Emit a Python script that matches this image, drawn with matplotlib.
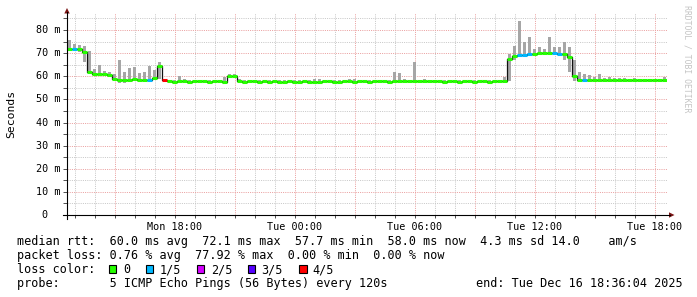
import matplotlib
matplotlib.use("Agg")
import matplotlib.pyplot as plt
from matplotlib.patches import Polygon, Rectangle
from matplotlib.lines import Line2D
import matplotlib.transforms as mtransforms
import numpy as np

# ---------------- data ----------------
start_hour = 12.6          # Mon 12:36 (hours since Mon 00:00)
step_hours = 0.25          # 15-minute bins
end_hour = 42.6            # Tue 18:36

median_ms = [
    72.0, 72.0, 71.7, 70.5, 62.0, 61.2, 61.0, 61.0, 60.6, 59.0,
    58.5, 58.6, 58.5, 58.7, 58.5, 58.5, 58.3, 59.2, 64.5, 58.2,
    57.8, 57.7, 57.9, 57.8, 57.7, 57.8, 57.8, 57.9, 57.7, 57.8,
    57.8, 57.7, 60.0, 60.2, 57.8, 57.7, 57.8, 57.8, 57.7, 57.8,
    57.7, 57.8, 57.6, 57.7, 57.8, 57.7, 57.7, 57.8, 57.7, 57.6,
    57.7, 57.8, 57.8, 57.7, 57.7, 57.8, 57.8, 57.7, 57.8, 57.8,
    57.7, 57.8, 57.9, 57.8, 57.7, 57.9, 58.0, 57.8, 57.8, 57.9,
    57.8, 57.8, 57.9, 57.8, 57.8, 57.7, 57.8, 57.8, 57.7, 57.8,
    57.8, 57.7, 57.8, 57.8, 57.7, 57.8, 57.8, 58.0, 67.5, 68.8,
    69.2, 69.4, 69.6, 69.8, 70.0, 70.0, 70.0, 70.0, 69.8, 69.5,
    68.3, 60.0, 58.6, 58.5, 58.4, 58.5, 58.4, 58.5, 58.4, 58.3,
    58.3, 58.4, 58.3, 58.3, 58.2, 58.3, 58.3, 58.2, 58.3, 58.4,
]

smoke_hi_ms = [
    75.5, 74.0, 73.5, 73.0, 71.0, 63.0, 64.9, 62.5, 62.0, 61.0,
    67.0, 62.0, 63.6, 64.0, 61.3, 62.0, 64.4, 62.7, 66.0, 59.0,
    58.5, 58.6, 60.0, 59.0, 58.5, 58.4, 58.6, 58.5, 58.4, 58.6,
    58.5, 59.5, 61.0, 61.2, 58.8, 58.5, 58.4, 58.5, 58.4, 58.5,
    58.4, 58.5, 58.3, 58.4, 58.5, 58.4, 58.5, 58.6, 58.4, 58.7,
    58.7, 58.5, 58.5, 58.4, 58.4, 58.5, 58.7, 58.7, 58.5, 58.5,
    58.4, 58.5, 58.6, 58.5, 58.4, 62.0, 61.5, 59.0, 58.6, 66.3,
    58.5, 59.0, 58.5, 58.5, 58.5, 58.4, 58.5, 58.5, 58.4, 58.5,
    58.5, 58.4, 58.5, 58.6, 58.4, 58.5, 58.6, 59.8, 69.5, 73.0,
    84.0, 75.0, 77.0, 72.0, 72.5, 72.0, 77.0, 72.5, 72.5, 75.0,
    72.5, 67.0, 62.0, 61.0, 60.5, 59.5, 60.8, 59.2, 59.8, 59.2,
    59.3, 59.1, 59.0, 59.1, 59.0, 58.9, 59.0, 58.8, 59.0, 59.8,
]

smoke_lo_ms = [
    71.5, 71.5, 70.5, 66.0, 61.0, 60.6, 60.5, 60.5, 59.8, 58.2,
    57.0, 57.2, 58.0, 58.0, 58.0, 58.0, 57.8, 58.5, 59.0, 57.7,
    57.4, 57.4, 57.4, 57.4, 57.4, 57.4, 57.4, 57.4, 57.4, 57.4,
    57.4, 57.4, 59.3, 59.5, 57.4, 57.4, 57.4, 57.4, 57.4, 57.4,
    57.4, 57.4, 57.4, 57.4, 57.4, 57.4, 57.4, 57.4, 57.4, 57.4,
    57.4, 57.4, 57.4, 57.4, 57.4, 57.4, 57.4, 57.4, 57.4, 57.4,
    57.4, 57.4, 57.4, 57.4, 57.4, 57.4, 57.4, 57.4, 57.4, 57.4,
    57.4, 57.4, 57.4, 57.4, 57.4, 57.4, 57.4, 57.4, 57.4, 57.4,
    57.4, 57.4, 57.4, 57.4, 57.4, 57.4, 57.4, 57.5, 58.0, 67.0,
    68.8, 69.0, 69.2, 69.4, 69.5, 69.5, 69.5, 69.5, 69.2, 67.0,
    62.0, 58.0, 58.0, 58.0, 58.0, 58.0, 58.0, 58.0, 58.0, 58.0,
    58.0, 58.0, 58.0, 58.0, 58.0, 58.0, 58.0, 58.0, 58.0, 58.0,
]

loss_fifths = [
    0, 1, 0, 0, 0, 0, 0, 0, 0, 0,
    0, 0, 0, 0, 0, 0, 1, 0, 0, 4,
    0, 0, 0, 0, 0, 0, 0, 0, 0, 0,
    0, 0, 0, 0, 0, 0, 0, 0, 0, 0,
    0, 0, 0, 0, 0, 0, 0, 0, 0, 0,
    0, 0, 0, 0, 0, 0, 0, 0, 0, 0,
    0, 0, 0, 0, 0, 0, 0, 0, 0, 0,
    0, 0, 0, 0, 0, 0, 0, 0, 0, 0,
    0, 0, 0, 0, 0, 0, 0, 0, 0, 0,
    1, 1, 1, 0, 0, 0, 0, 1, 1, 0,
    0, 0, 0, 1, 0, 0, 0, 0, 0, 0,
    0, 0, 0, 0, 0, 0, 0, 0, 0, 0,
]

loss_colors = ["#26ff00", "#00b8ff", "#d400ff", "#5500ff", "#ff0000"]
loss_labels = ["0", "1/5", "2/5", "3/5", "4/5"]

x_tick_hours = [18, 24, 30, 36, 42]
x_tick_labels = ["Mon 18:00", "Tue 00:00", "Tue 06:00", "Tue 12:00", "Tue 18:00"]
y_tick_values = [0, 10, 20, 30, 40, 50, 60, 70, 80]
y_tick_labels = ["0", "10 m", "20 m", "30 m", "40 m", "50 m", "60 m", "70 m", "80 m"]

stats_line1 = "median rtt:  60.0 ms avg  72.1 ms max  57.7 ms min  58.0 ms now  4.3 ms sd 14.0    am/s"
stats_line2 = "packet loss: 0.76 % avg  77.92 % max  0.00 % min  0.00 % now"
probe_line = "probe:       5 ICMP Echo Pings (56 Bytes) every 120s"
end_text = "end: Tue Dec 16 18:36:04 2025"

# ---------------- figure ----------------
W, H = 697, 297
fig = plt.figure(figsize=(W / 100, H / 100), dpi=100)
fig.patch.set_facecolor("white")
MONO = "DejaVu Sans Mono"

def fx(px):
    return px / W

def fy(py):
    return 1 - py / H

x0_px, x1_px, y0_px, y1_px = 67, 667, 215, 12.7
ax = fig.add_axes([fx(x0_px), fy(y0_px), (x1_px - x0_px) / W, (y0_px - y1_px) / H])
ax.set_xlim(start_hour, end_hour)
ax.set_ylim(0, 87.5)
ax.set_facecolor("white")
for s in ax.spines.values():
    s.set_visible(False)

# grid
minor_grid_col = "#c8c8c8"
major_grid_col = "#eaa0a0"
hours = np.arange(13, 43)
for h in hours:
    major = (h % 3 == 0)
    ax.axvline(h, color=major_grid_col if major else minor_grid_col,
               lw=0.72, ls=(0, (1, 1.2)), zorder=0)
for v in np.arange(5, 87, 5):
    major = (v % 10 == 0)
    ax.axhline(v, color=major_grid_col if major else minor_grid_col,
               lw=0.72, ls=(0, (1, 1.2)), zorder=0)

# data
n = len(median_ms)
edges = start_hour + step_hours * np.arange(n + 1)
centers = edges[:-1] + step_hours / 2
med = np.array(median_ms)
hi = np.array(smoke_hi_ms)
lo = np.array(smoke_lo_ms)
ax.bar(centers, hi - lo, bottom=lo, width=step_hours * 0.75,
       color="#a6a6a6", lw=0, zorder=2)
ax.step(edges, np.append(med, med[-1]), where="post", color="#111111", lw=0.9, zorder=3)
ax.hlines(med, edges[:-1], edges[1:], colors=[loss_colors[l] for l in loss_fifths],
          lw=2.2, zorder=4)

# ticks
ax.set_xticks(x_tick_hours)
ax.set_xticklabels(x_tick_labels, fontfamily=MONO, fontsize=7.3)
ax.set_xticks(hours, minor=True)
ax.set_yticks(y_tick_values)
ax.set_yticklabels([])
ax.set_yticks(np.arange(5, 87, 5), minor=True)
ax.tick_params(axis="both", which="both", direction="out", color="#505050",
               width=0.7, length=2.2, pad=2.5)
ax.tick_params(axis="y", which="both", length=2.8)

ytrans = mtransforms.blended_transform_factory(fig.transFigure, ax.transData)
for v, lab in zip(y_tick_values, y_tick_labels):
    if lab.endswith(" m"):
        fig.text(fx(60.5), v, lab, transform=ytrans, ha="right", va="center",
                 fontfamily=MONO, fontsize=7.3, color="#000000")
    else:
        fig.text(fx(44.5), v, lab, transform=ytrans, ha="center", va="center",
                 fontfamily=MONO, fontsize=7.3, color="#000000")

# axes lines with arrows
axis_col = "#000000"
arrow_col = "#7a1414"
fig.add_artist(Line2D([fx(67), fx(67)], [fy(219), fy(12)], transform=fig.transFigure,
                      color=axis_col, lw=0.8))
fig.add_artist(Line2D([fx(63), fx(670)], [fy(215), fy(215)], transform=fig.transFigure,
                      color=axis_col, lw=0.8))
fig.add_artist(Polygon([[fx(64.3), fy(13.5)], [fx(69.7), fy(13.5)], [fx(67), fy(8)]],
                       closed=True, transform=fig.transFigure, color=arrow_col, lw=0))
fig.add_artist(Polygon([[fx(669), fy(212.3)], [fx(669), fy(217.7)], [fx(674.5), fy(215)]],
                       closed=True, transform=fig.transFigure, color=arrow_col, lw=0))

# y axis label and watermark
fig.text(fx(11), fy(114), "Seconds", rotation=90, ha="center", va="center",
         fontfamily=MONO, fontsize=8.2, color="#000000")
fig.text(fx(687.5), fy(59), "RRDTOOL / TOBI OETIKER", rotation=270, ha="center",
         va="center", fontfamily=MONO, fontsize=5.9, color="#c4c4c4")

# legend / stats
fs = 8.45
fig.text(fx(16.7), fy(245.4), stats_line1, ha="left", va="baseline",
         fontfamily=MONO, fontsize=fs, color="#000000")
fig.text(fx(16.7), fy(259.4), stats_line2, ha="left", va="baseline",
         fontfamily=MONO, fontsize=fs, color="#000000")
fig.text(fx(16.7), fy(273.4), "loss color:", ha="left", va="baseline",
         fontfamily=MONO, fontsize=fs, color="#000000")
box_x = [108.7, 145.7, 196.7, 247.8, 299.0]
lab_x = [123.3, 160.0, 210.7, 261.6, 312.5]
for bx, lx, col, lab in zip(box_x, lab_x, loss_colors, loss_labels):
    fig.add_artist(Rectangle((fx(bx), fy(273)), 7.5 / W, 8.5 / H, transform=fig.transFigure,
                             facecolor=col, edgecolor="#000000", lw=0.8))
    fig.text(fx(lx), fy(273.4), lab, ha="left", va="baseline",
             fontfamily=MONO, fontsize=fs, color="#000000")
fig.text(fx(16.7), fy(287.2), probe_line, ha="left", va="baseline",
         fontfamily=MONO, fontsize=fs, color="#000000")
fig.text(fx(475.7), fy(287.2), end_text, ha="left", va="baseline",
         fontfamily=MONO, fontsize=fs, color="#000000")

fig.savefig("out.png", dpi=100, facecolor="white")
